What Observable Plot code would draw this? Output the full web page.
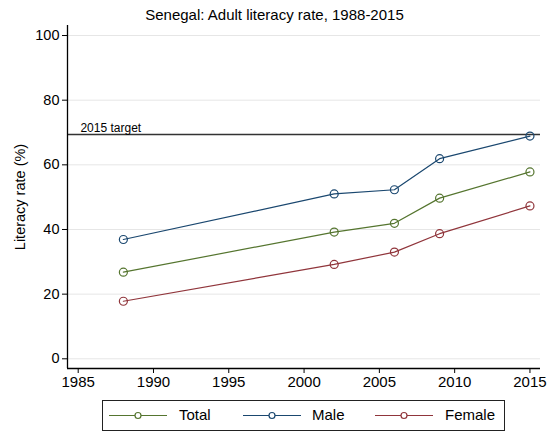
<!DOCTYPE html>
<html>
<head>
<meta charset="utf-8">
<script src="https://cdn.jsdelivr.net/npm/d3@7"></script>
<script src="https://cdn.jsdelivr.net/npm/@observablehq/plot@0.6"></script>
<style>
  html, body { margin: 0; padding: 0; background: #fff; }
  body { width: 549px; height: 433px; position: relative; overflow: hidden; font-family: "Liberation Sans", Arial, sans-serif; }
  #title { position: absolute; left: 0; top: 0; width: 549px; height: 25px; text-align: center; font-size: 15px; line-height: 30px; color: #000; }
  #chart { position: absolute; left: 0; top: 25px; }
  #legend { position: absolute; left: 102px; top: 400px; width: 401px; height: 29px; border: 1px solid #222; background: #fff; }
  .item { position: absolute; top: 0; height: 29px; }
  .item svg { position: absolute; top: 0; left: 0; }
  .item span { position: absolute; top: 5px; font-size: 15px; color: #000; white-space: nowrap; }
</style>
</head>
<body>
<div id="title">Senegal: Adult literacy rate, 1988-2015</div>
<div id="chart"></div>
<div id="legend"></div>
<script>
const years = [1988, 2002, 2006, 2009, 2015];
const total = [26.8, 39.2, 41.9, 49.7, 57.8];
const male = [36.9, 51.0, 52.3, 61.9, 68.9];
const female = [17.8, 29.2, 33.0, 38.7, 47.3];
const seriesNames = ["Total", "Male", "Female"];
const seriesColors = ["#55752f", "#1a476f", "#90353b"];
const target = 69.4;
const targetLabel = "2015 target";
const xTicks = [1985, 1990, 1995, 2000, 2005, 2010, 2015];
const yTicks = [0, 20, 40, 60, 80, 100];

const seriesValues = [total, male, female];
const data = [];
seriesNames.forEach((s, i) => years.forEach((y, j) => data.push({series: s, year: y, value: seriesValues[i][j]})));

const chart = Plot.plot({
  width: 549,
  height: 370,
  marginLeft: 67,
  marginRight: 9,
  marginTop: 0,
  marginBottom: 27,
  style: {fontFamily: "'Liberation Sans', Arial, sans-serif", fontSize: "14px", color: "#000", background: "#fff"},
  x: {domain: [1984.29, 2015.70]},
  y: {domain: [-3.0, 103.1]},
  color: {domain: seriesNames, range: seriesColors},
  marks: [
    Plot.gridY(yTicks, {stroke: "#e6e6e6", strokeOpacity: 1, strokeWidth: 1}),
    Plot.ruleY([target], {stroke: "#333", strokeWidth: 1.4}),
    Plot.text([targetLabel], {x: 1985.15, y: target, text: d => d, textAnchor: "start", lineAnchor: "bottom", dy: -2, fontSize: 12, fill: "#000"}),
    Plot.line(data, {x: "year", y: "value", z: "series", stroke: "series", strokeWidth: 1.2}),
    Plot.dot(data, {x: "year", y: "value", stroke: "series", r: 4, strokeWidth: 1.2, fill: "none"}),
    Plot.axisY(yTicks, {tickSize: 5, tickPadding: 3, fontSize: 14.5, label: "Literacy rate (%)", labelAnchor: "center", labelOffset: 53, labelArrow: "none", stroke: "#000"}),
    Plot.axisX(xTicks, {tickSize: 5, tickPadding: 3, fontSize: 15, tickFormat: d => String(d), label: null, stroke: "#000"}),
    Plot.ruleX([1984.29], {stroke: "#000", strokeWidth: 1.3}),
    Plot.ruleY([-3.0], {stroke: "#000", strokeWidth: 1.3})
  ]
});
document.getElementById("chart").appendChild(chart);

// legend
const legend = document.getElementById("legend");
const pos = [{line: 6, text: 76}, {line: 140, text: 209}, {line: 272, text: 342}];
seriesNames.forEach((s, i) => {
  const div = document.createElement("div");
  div.className = "item";
  div.style.left = pos[i].line + "px";
  div.style.width = "140px";
  div.innerHTML = `<svg width="60" height="29"><line x1="0" x2="58" y1="14.5" y2="14.5" stroke="${seriesColors[i]}" stroke-width="1.2"/><circle cx="29" cy="14.5" r="3" fill="#fff" stroke="${seriesColors[i]}" stroke-width="1.2"/></svg><span style="left:${pos[i].text - pos[i].line}px">${s}</span>`;
  legend.appendChild(div);
});
</script>
</body>
</html>
